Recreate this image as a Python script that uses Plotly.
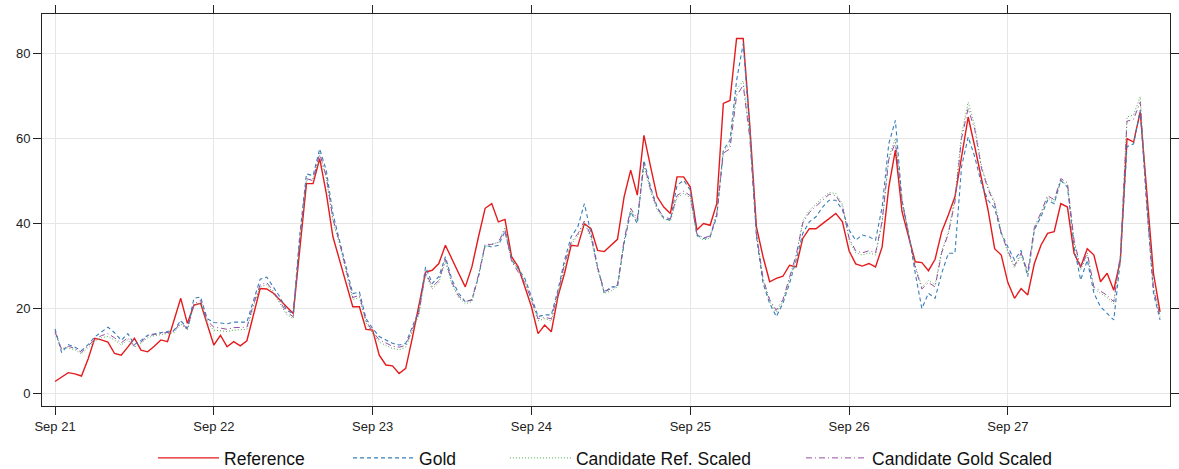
import pandas as pd
import plotly.graph_objects as go

# Hourly timestamps, Sep 21 00:00 .. Sep 27 23:00
times = pd.date_range("2023-09-21 00:00", periods=168, freq="h")

reference = [
    2.7, 3.7, 4.8, 4.5, 4.0, 8.0, 12.9, 12.5, 12.0, 9.3, 8.9, 10.8, 12.9, 10.1, 9.7, 11.0, 12.5, 12.1, 17.0, 22.3, 16.4, 20.7, 21.1, 16.0,
    11.3, 13.6, 10.9, 12.1, 11.1, 12.3, 18.5, 24.6, 24.5, 23.5, 21.9, 20.3, 18.7, 34.0, 49.3, 49.3, 55.2, 47.0, 36.8, 31.3, 25.8, 20.3, 20.3, 15.0,
    14.8, 8.9, 6.6, 6.4, 4.6, 5.8, 13.0, 20.5, 28.5, 28.9, 30.5, 34.8, 31.3, 28.2, 25.0, 29.7, 36.8, 43.5, 44.6, 40.3, 40.9, 32.1, 29.7, 25.2,
    20.3, 14.0, 16.0, 14.4, 22.7, 28.2, 34.8, 34.6, 39.9, 38.7, 33.6, 33.3, 34.8, 36.2, 46.2, 52.5, 46.6, 60.7, 53.3, 46.2, 43.8, 42.3, 50.9, 50.9,
    48.5, 38.4, 39.9, 39.5, 44.6, 68.2, 68.9, 83.5, 83.5, 63.0, 39.1, 32.1, 26.2, 27.0, 27.5, 30.1, 29.7, 36.4, 38.7, 38.7, 39.9, 41.1, 42.3, 40.3,
    33.5, 30.4, 29.9, 30.5, 29.7, 34.4, 48.5, 57.2, 42.7, 36.8, 30.9, 30.7, 28.8, 31.5, 38.0, 41.9, 46.2, 55.6, 65.0, 58.0, 50.9, 43.1, 34.0, 32.5,
    26.0, 22.3, 24.6, 23.1, 30.5, 34.8, 37.6, 38.0, 44.6, 43.8, 32.9, 29.7, 34.0, 32.5, 26.2, 28.2, 24.2, 31.3, 59.9, 59.1, 66.2, 47.0, 28.2, 19.1,
]

gold = [
    15.1, 9.5, 11.4, 10.8, 10.0, 11.4, 13.2, 14.4, 15.5, 14.2, 12.4, 14.0, 11.4, 12.4, 13.6, 13.9, 14.2, 14.4, 14.8, 17.1, 15.2, 22.3, 22.6, 17.5,
    16.6, 16.5, 16.3, 16.7, 16.7, 16.7, 21.8, 26.8, 27.3, 24.9, 22.6, 19.5, 18.7, 37.5, 51.6, 51.2, 57.5, 52.4, 42.2, 35.9, 29.6, 23.4, 23.8, 17.5,
    15.2, 13.3, 12.5, 11.7, 11.3, 11.7, 15.6, 19.5, 29.7, 25.8, 27.4, 32.1, 26.6, 23.5, 21.5, 21.9, 27.4, 34.8, 34.4, 34.8, 38.0, 31.3, 29.3, 27.0,
    22.7, 18.0, 18.4, 18.4, 24.2, 31.3, 36.8, 39.1, 44.6, 37.6, 29.7, 23.5, 25.0, 25.0, 35.2, 42.7, 39.9, 54.8, 48.5, 43.8, 41.1, 40.7, 48.9, 50.1,
    47.8, 37.2, 36.4, 36.8, 41.5, 57.2, 59.5, 73.6, 82.3, 61.9, 36.8, 25.8, 21.1, 18.0, 21.1, 25.8, 31.3, 37.6, 40.3, 41.5, 43.8, 45.4, 45.4, 43.1,
    38.4, 36.0, 37.2, 36.8, 36.0, 43.8, 58.7, 64.2, 45.4, 37.6, 28.2, 19.9, 23.5, 22.3, 28.2, 32.9, 32.9, 53.3, 60.3, 55.6, 49.3, 45.4, 43.5, 37.6,
    34.4, 31.3, 33.6, 27.4, 38.4, 41.5, 45.4, 44.6, 50.1, 48.5, 34.4, 26.6, 31.3, 23.5, 20.3, 18.7, 17.2, 31.3, 58.0, 58.7, 66.6, 43.8, 23.5, 17.2,
]

candidate_ref_scaled = [
    14.0, 10.5, 10.6, 10.2, 9.2, 10.6, 12.2, 13.0, 13.3, 12.5, 11.3, 12.5, 10.8, 11.7, 13.0, 13.5, 13.8, 14.0, 14.2, 16.3, 14.8, 20.5, 21.2, 16.5,
    14.8, 14.6, 14.5, 14.8, 14.9, 15.0, 20.5, 25.0, 25.5, 23.5, 21.0, 18.5, 17.5, 36.0, 50.0, 50.5, 56.0, 50.5, 40.5, 35.0, 28.5, 22.0, 22.5, 16.5,
    14.0, 12.0, 11.2, 10.5, 10.2, 10.8, 14.5, 18.5, 28.0, 24.5, 26.0, 31.0, 25.5, 22.5, 21.0, 21.5, 27.5, 34.5, 35.0, 35.5, 39.0, 31.5, 29.0, 26.5,
    21.5, 17.0, 17.5, 17.0, 23.0, 30.0, 35.0, 37.0, 40.0, 36.5, 29.0, 23.5, 24.0, 25.0, 35.5, 43.0, 40.5, 53.5, 47.5, 43.0, 41.0, 40.5, 46.0, 47.0,
    46.0, 37.0, 36.0, 36.5, 42.5, 57.0, 58.5, 71.5, 73.5, 61.0, 38.0, 26.5, 21.5, 19.0, 21.5, 26.5, 32.0, 40.5, 43.0, 44.5, 46.0, 47.2, 47.0, 44.5,
    36.0, 33.0, 32.5, 33.0, 32.5, 40.0, 55.5, 60.0, 45.5, 37.5, 30.0, 25.0, 26.5, 25.5, 33.5, 38.0, 46.0, 61.0, 68.5, 63.0, 53.5, 48.5, 45.0, 38.0,
    33.0, 29.5, 32.5, 28.0, 38.5, 42.0, 46.0, 45.0, 50.0, 49.0, 35.5, 29.0, 32.5, 24.5, 23.5, 22.5, 21.0, 32.0, 65.0, 65.5, 69.8, 45.0, 25.0, 18.2,
]

candidate_gold_scaled = [
    14.5, 10.2, 11.0, 10.5, 9.6, 11.0, 12.6, 13.5, 14.0, 13.0, 11.8, 13.0, 11.0, 12.0, 13.4, 13.8, 14.0, 14.2, 14.5, 16.8, 15.0, 21.0, 21.8, 17.0,
    15.5, 15.3, 15.0, 15.4, 15.4, 15.5, 21.0, 25.5, 26.0, 24.0, 21.5, 19.0, 18.0, 36.5, 50.5, 50.0, 56.5, 51.0, 41.0, 35.5, 29.0, 22.5, 23.0, 17.0,
    14.5, 12.5, 11.8, 11.0, 10.8, 11.2, 15.0, 19.0, 28.5, 25.0, 26.5, 31.5, 26.0, 22.8, 21.5, 22.0, 27.8, 35.0, 35.0, 35.5, 38.5, 31.0, 28.5, 26.0,
    22.0, 17.5, 17.8, 17.5, 23.5, 30.5, 35.5, 37.5, 40.5, 37.0, 29.5, 24.0, 24.5, 25.5, 36.0, 43.5, 41.0, 54.0, 48.0, 43.5, 41.5, 41.0, 46.5, 47.5,
    46.5, 37.5, 36.5, 37.0, 42.0, 56.5, 57.5, 70.0, 72.5, 60.0, 37.5, 27.0, 22.0, 19.5, 22.0, 27.0, 32.5, 40.0, 42.5, 44.0, 45.5, 46.8, 46.5, 44.0,
    36.5, 33.5, 33.0, 33.5, 33.0, 40.5, 55.0, 59.0, 45.0, 37.0, 29.5, 24.5, 26.0, 25.0, 33.0, 37.5, 45.0, 60.0, 67.0, 62.0, 53.0, 48.0, 44.5, 37.5,
    33.5, 30.0, 33.0, 28.5, 39.0, 42.5, 46.5, 45.5, 50.5, 49.5, 36.0, 29.5, 33.0, 25.0, 24.0, 23.0, 21.5, 32.5, 64.0, 64.5, 68.5, 44.5, 24.5, 18.0,
]

series_names = ["Reference", "Gold", "Candidate Ref. Scaled", "Candidate Gold Scaled"]
y_ticks = [0, 20, 40, 60, 80]
x_ticks = pd.date_range("2023-09-21", periods=7, freq="D")
x_tick_labels = ["Sep 21", "Sep 22", "Sep 23", "Sep 24", "Sep 25", "Sep 26", "Sep 27"]

styles = [
    dict(color="#E41A1C", width=1.4, dash="solid"),
    dict(color="#377EB8", width=1.1, dash="4px,3px"),
    dict(color="#4DAF4A", width=1.0, dash="1px,2px"),
    dict(color="#984EA3", width=1.0, dash="6px,3px,1px,3px"),
]
legend_ids = ["legend", "legend2", "legend3", "legend4"]
legend_x = [0.1298, 0.2952, 0.4283, 0.6794]

fig = go.Figure()
for name, vals, st, lg in zip(series_names,
                              [reference, gold, candidate_ref_scaled, candidate_gold_scaled],
                              styles, legend_ids):
    fig.add_trace(go.Scatter(x=times, y=vals, mode="lines", name=name, line=st, legend=lg))

font = "Liberation Sans, Arial, sans-serif"
legend_common = dict(orientation="h", xref="container", yref="container",
                     xanchor="left", y=1 - 458 / 469, yanchor="middle",
                     font=dict(size=17.5, color="#111"), itemwidth=61,
                     bgcolor="rgba(0,0,0,0)")
layout_legends = {lg: dict(legend_common, x=lx) for lg, lx in zip(legend_ids, legend_x)}

fig.update_layout(
    width=1179, height=469,
    margin=dict(l=42, r=9, t=14, b=63, autoexpand=False),
    paper_bgcolor="white", plot_bgcolor="white",
    font=dict(family=font, size=13, color="#222"),
    showlegend=True,
    **layout_legends,
)
fig.update_xaxes(
    range=[pd.Timestamp("2023-09-20 22:02"), pd.Timestamp("2023-09-28 00:30")],
    tickvals=x_ticks, ticktext=x_tick_labels,
    showgrid=True, gridcolor="#E6E6E6", gridwidth=1,
    showline=True, linecolor="#222", linewidth=1, mirror="ticks",
    ticks="outside", ticklen=8, tickcolor="#222", zeroline=False,
)
fig.update_yaxes(
    range=[-3.06, 89.26],
    tickvals=y_ticks,
    showgrid=True, gridcolor="#E6E6E6", gridwidth=1,
    showline=True, linecolor="#222", linewidth=1, mirror="ticks",
    ticks="outside", ticklen=8, tickcolor="#222", zeroline=False,
)
fig.write_html("out.html")
